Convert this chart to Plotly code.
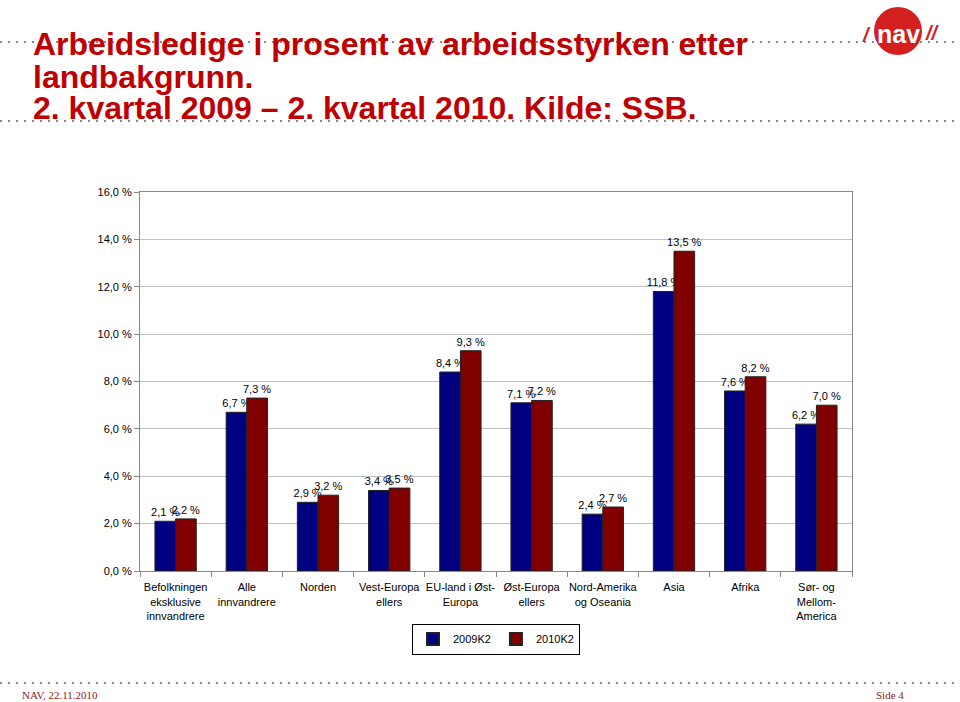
import plotly.graph_objects as go

categories = [
    "Befolkningen<br>eksklusive<br>innvandrere",
    "Alle<br>innvandrere",
    "Norden",
    "Vest-Europa<br>ellers",
    "EU-land i Øst-<br>Europa",
    "Øst-Europa<br>ellers",
    "Nord-Amerika<br>og Oseania",
    "Asia",
    "Afrika",
    "Sør- og<br>Mellom-<br>America",
]
series_2009 = [2.1, 6.7, 2.9, 3.4, 8.4, 7.1, 2.4, 11.8, 7.6, 6.2]
series_2010 = [2.2, 7.3, 3.2, 3.5, 9.3, 7.2, 2.7, 13.5, 8.2, 7.0]
ytick_vals = [0, 2, 4, 6, 8, 10, 12, 14, 16]
ytick_text = ["0,0 %", "2,0 %", "4,0 %", "6,0 %", "8,0 %", "10,0 %", "12,0 %", "14,0 %", "16,0 %"]

W, H = 960, 702
L, R, T, B = 140, 108, 192, 131
pw, ph = W - L - R, H - T - B


def px(x):
    return (x - L) / pw


def py(y):
    return (H - B - y) / ph


def lab(v):
    return f"{v:.1f}".replace(".", ",") + " %"


fig = go.Figure()
for name, vals, col in [("2009K2", series_2009, "#000080"), ("2010K2", series_2010, "#800000")]:
    fig.add_trace(go.Bar(
        x=categories, y=vals, name=name,
        marker=dict(color=col, line=dict(color="#222222", width=1)),
        text=[lab(v) for v in vals], textposition="outside",
        textfont=dict(family="Arial", size=11, color="black"),
        constraintext="none",
        cliponaxis=False,
    ))

fig.update_layout(
    width=W, height=H,
    margin=dict(l=L, r=R, t=T, b=B),
    paper_bgcolor="white", plot_bgcolor="white",
    barmode="group", bargap=0.42, bargroupgap=0,
    font=dict(family="Arial", size=11, color="black"),
    showlegend=True,
    legend=dict(orientation="h", x=0.5, xanchor="center", y=py(639), yanchor="middle",
                bordercolor="black", borderwidth=1, font=dict(size=11),
                itemwidth=30, tracegroupgap=0, itemsizing="constant"),
    xaxis=dict(type="category", showline=True, linecolor="#888888", linewidth=1,
               ticks="outside", ticklen=5, tickcolor="#888888", tickson="boundaries",
               tickfont=dict(size=11), tickangle=0, ticklabelstandoff=6, mirror=True),
    yaxis=dict(range=[0, 16], tickvals=ytick_vals, ticktext=ytick_text,
               showgrid=True, gridcolor="#c0c0c0", gridwidth=1,
               showline=True, linecolor="#888888", linewidth=1, mirror=True,
               ticks="outside", ticklen=5, tickcolor="#888888",
               tickfont=dict(size=11), zeroline=False),
)

shapes = []
for yy in (42, 121, 683):
    shapes.append(dict(type="line", xref="paper", yref="paper", x0=px(0), x1=px(960),
                       y0=py(yy), y1=py(yy), line=dict(color="#8a8a8a", width=2, dash="2px,6px"),
                       layer="below"))
# NAV logo circle
cx, cy, r = 898, 31, 24
shapes.append(dict(type="circle", xref="paper", yref="paper", x0=px(cx - r), x1=px(cx + r),
                   y0=py(cy + r), y1=py(cy - r), fillcolor="#d41f1f", line=dict(width=0)))
fig.update_layout(shapes=shapes)

ann = []
title_lines = [
    ("Arbeidsledige i prosent av arbeidsstyrken etter", 44),
    ("landbakgrunn.", 77),
    ("2. kvartal 2009 – 2. kvartal 2010. Kilde: SSB.", 108),
]
for txt, yy in title_lines:
    ann.append(dict(text=f"<b>{txt}</b>", xref="paper", yref="paper", x=px(31), y=py(yy),
                    xanchor="left", yanchor="middle", showarrow=False,
                    font=dict(family="Arial", size=32, color="#c00000")))
ann.append(dict(text="<b>nav</b>", xref="paper", yref="paper", x=px(cx), y=py(cy + 3),
                xanchor="center", yanchor="middle", showarrow=False,
                font=dict(family="Arial", size=25, color="white")))
ann.append(dict(text="<b><i>/</i></b>", xref="paper", yref="paper", x=px(866), y=py(35),
                xanchor="center", yanchor="middle", showarrow=False,
                font=dict(family="Arial", size=20, color="#d41f1f")))
ann.append(dict(text="<b><i>//</i></b>", xref="paper", yref="paper", x=px(932), y=py(33),
                xanchor="center", yanchor="middle", showarrow=False,
                font=dict(family="Arial", size=20, color="#d41f1f")))
ann.append(dict(text="NAV, 22.11.2010", xref="paper", yref="paper", x=px(20), y=py(695),
                xanchor="left", yanchor="middle", showarrow=False,
                font=dict(family="Liberation Serif", size=11, color="#8b1a1a")))
ann.append(dict(text="Side 4", xref="paper", yref="paper", x=px(906), y=py(695),
                xanchor="right", yanchor="middle", showarrow=False,
                font=dict(family="Liberation Serif", size=11, color="#8b1a1a")))
fig.update_layout(annotations=ann)

fig.write_html("out.html")
